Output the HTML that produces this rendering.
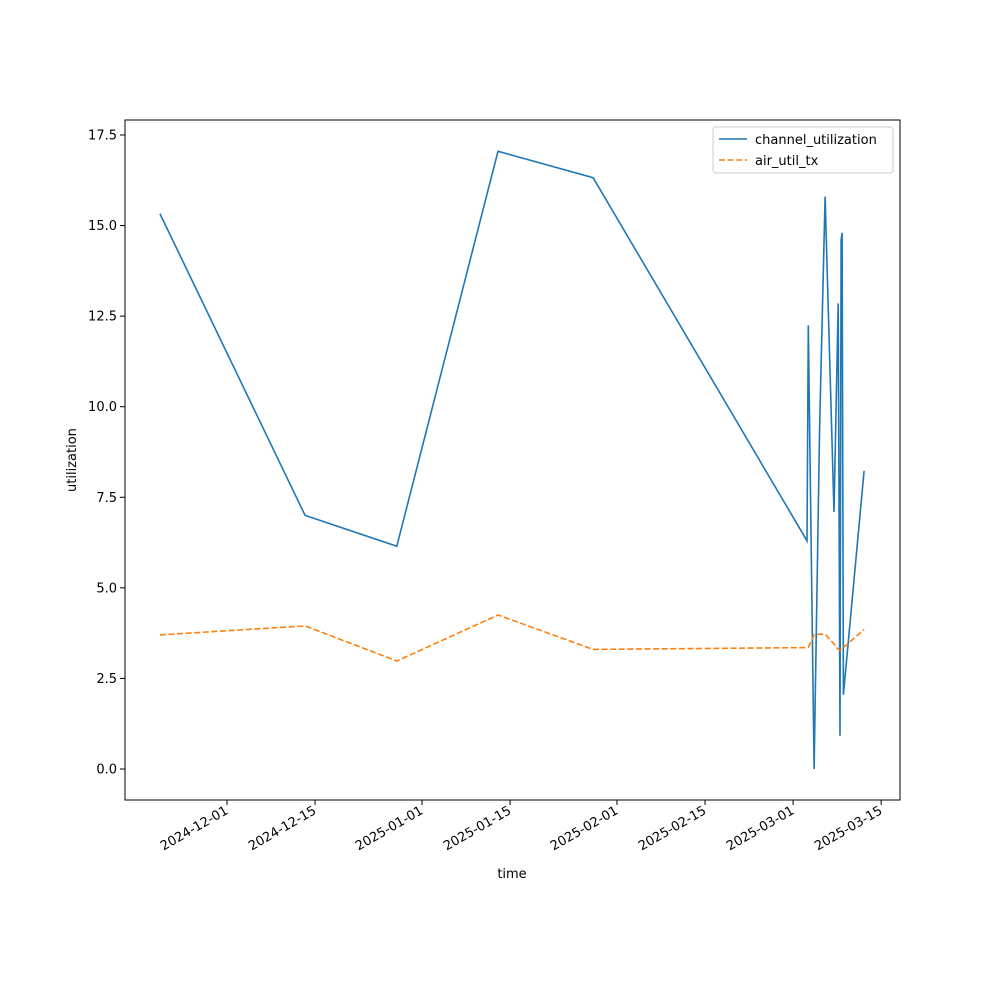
<!DOCTYPE html>
<html><head><meta charset="utf-8"><style>
body{margin:0;background:#fff}
svg{font-family:"DejaVu Sans","Liberation Sans",sans-serif}
</style></head><body>
<svg id="chart" width="1000" height="1000" xmlns="http://www.w3.org/2000/svg">
<rect width="1000" height="1000" fill="#fff"/>
<g id="plot"></g>
</svg>
<script>
const times=["2024-11-20T08:00","2024-12-13T10:00","2024-12-28T00:00","2025-01-13T02:00","2025-01-28T05:00","2025-03-03T05:00","2025-03-03T10:00","2025-03-04T08:00","2025-03-05T05:00","2025-03-06T02:00","2025-03-07T12:00","2025-03-08T04:00","2025-03-08T11:00","2025-03-08T15:00","2025-03-08T19:00","2025-03-09T00:00","2025-03-12T07:00"];
const channelUtil=[15.33,7.0,6.15,17.05,16.32,6.3,12.25,0.0,9.4,15.8,7.1,12.85,0.92,14.6,14.8,2.05,8.23];
const airUtilTx=[3.7,3.95,2.98,4.25,3.3,3.35,3.36,3.7,3.72,3.72,3.45,3.3,3.28,3.3,3.32,3.35,3.85];
const xTicks=["2024-12-01","2024-12-15","2025-01-01","2025-01-15","2025-02-01","2025-02-15","2025-03-01","2025-03-15"];
const yTicks=[0,2.5,5,7.5,10,12.5,15,17.5];

const NS="http://www.w3.org/2000/svg";
const L=125,R=900,T=120,B=800;
const t0=Date.parse("2024-12-01T00:00Z");
const day=86400000;
function xs(s){const d=(Date.parse(s+(s.length>10?"Z":"T00:00Z"))-t0)/day;return 227+d*6.29;}
function ys(v){return 769-v*36.23;}
const g=document.getElementById("plot");
function el(tag,attrs,parent){const e=document.createElementNS(NS,tag);for(const k in attrs)e.setAttribute(k,attrs[k]);(parent||g).appendChild(e);return e;}

const frame=el("rect",{x:L,y:T,width:R-L,height:B-T,fill:"none",stroke:"#000","stroke-width":1});



xTicks.forEach(s=>{const x=xs(s);
 const tk=el("line",{x1:x,x2:x,y1:B,y2:B+5,stroke:"#000"});
 
 
 const t=el("text",{x:x+2,y:B+13,"font-size":13,"text-anchor":"end",transform:`rotate(-30 ${x+2} ${B+13})`});
 t.textContent=s;
 
 
});
yTicks.forEach(v=>{const y=ys(v);
 const tk=el("line",{x1:L-5,x2:L,y1:y,y2:y,stroke:"#000"});
 
 
 const t=el("text",{x:L-8,y:y+4.5,"font-size":13,"text-anchor":"end"});
 t.textContent=v.toFixed(1);
 
 
});
function line(vals,color,dash,name){
 const d=vals.map((v,i)=>(i?"L":"M")+xs(times[i]).toFixed(1)+","+ys(v).toFixed(1)).join("");
 const p=el("path",{d:d,fill:"none",stroke:color,"stroke-width":1.6,"stroke-dasharray":dash||"none"});
 
 
}
line(channelUtil,"#1f77b4",null,"channel-utilization-line");
line(airUtilTx,"#ff7f0e","6,2.6","air-util-tx-line");

const xl=el("text",{x:512,y:878,"font-size":13,"text-anchor":"middle"});xl.textContent="time";


const yl=el("text",{x:76,y:460,"font-size":13,"text-anchor":"middle",transform:"rotate(-90 76 460)"});yl.textContent="utilization";



const lg=el("g",{});


el("rect",{x:713,y:127,width:180,height:46,rx:3,fill:"#fff",stroke:"#ccc"},lg);
el("line",{x1:719,x2:747,y1:139,y2:139,stroke:"#1f77b4","stroke-width":1.6},lg);
const l1=el("text",{x:755,y:144,"font-size":13},lg);l1.textContent="channel_utilization";


el("line",{x1:719,x2:747,y1:160,y2:160,stroke:"#ff7f0e","stroke-width":1.6,"stroke-dasharray":"6,2.6"},lg);
const l2=el("text",{x:755,y:165,"font-size":13},lg);l2.textContent="air_util_tx";


</script>
</body></html>
